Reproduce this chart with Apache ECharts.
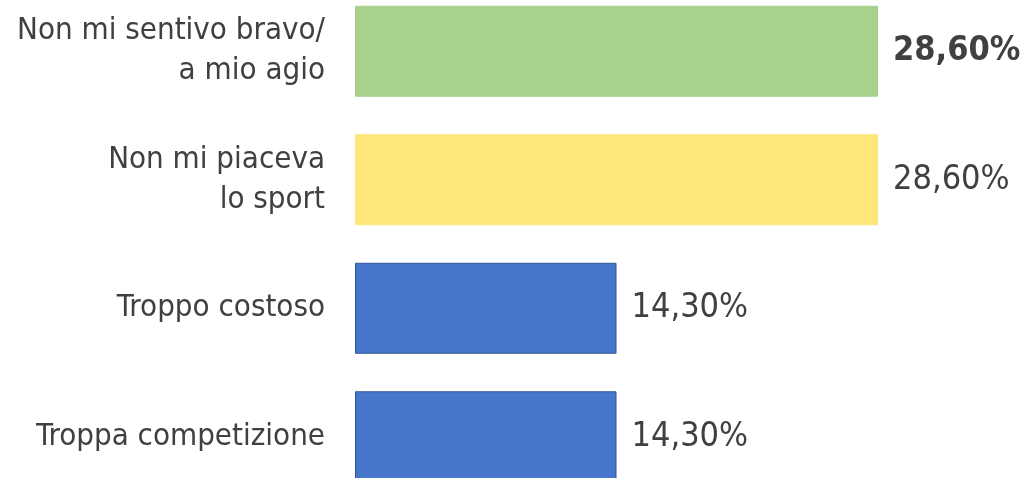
<!DOCTYPE html>
<html>
<head>
<meta charset="utf-8">
<script src="https://cdn.jsdelivr.net/npm/echarts@6/dist/echarts.min.js"></script>
<style>
  html, body { margin: 0; padding: 0; background: #fff; }
  #main { width: 1031px; height: 478px; }
</style>
</head>
<body>
<div id="main"></div>
<script>
// dati
var categories = ['Non mi sentivo bravo/\na mio agio', 'Non mi piaceva\nlo sport', 'Troppo costoso', 'Troppa competizione'];
var values = [28.6, 28.6, 14.3, 14.3];
var colors = ['#A9D18E', '#FFE67A', '#4677CB', '#4677CB'];
var borders = ['#A9D18E', '#FFE67A', '#2F5597', '#2F5597'];

var FONT = '"DejaVu Sans Condensed", "Liberation Sans Narrow", sans-serif';

var myChart = echarts.init(document.getElementById('main'));
var options = {
    animation: false,
    grid: {
        left: 355, right: 153, top: -13, bottom: -23,
        containLabel: false, outerBoundsMode: 'none'
    },
    xAxis: {
        type: 'value', min: 0, max: 28.6, show: false
    },
    yAxis: {
        type: 'category',
        inverse: true,
        data: categories,
        axisLine: { show: false },
        axisTick: { show: false },
        axisLabel: {
            margin: 30,
            color: '#404040',
            fontFamily: FONT,
            fontSize: 31,
            lineHeight: 40
        }
    },
    series: [{
        type: 'bar',
        barWidth: 91,
        data: values.map(function (v, i) {
            return {
                value: v,
                itemStyle: { color: colors[i], borderColor: borders[i], borderWidth: 1 },
                label: { fontWeight: i === 0 ? 'bold' : 'normal' }
            };
        }),
        label: {
            show: true,
            position: 'right',
            distance: 15,
            color: '#404040',
            fontFamily: FONT,
            fontSize: 34,
            formatter: function (p) { return p.value.toFixed(2).replace('.', ',') + '%'; }
        }
    }]
};
myChart.setOption(options, true);
</script>
</body>
</html>
